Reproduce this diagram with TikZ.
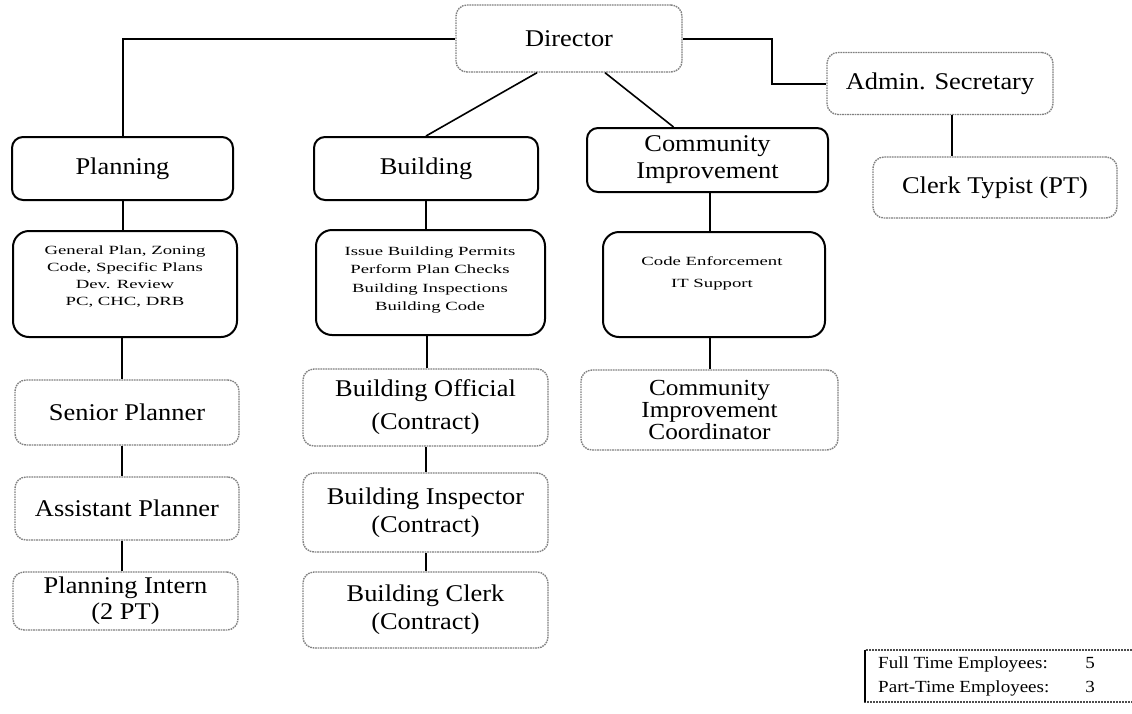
\documentclass[tikz,border=0pt]{standalone}
\usepackage{fontspec}
\setmainfont{Liberation Serif}
\newfontfamily\boxfont[FakeStretch=1.1]{Liberation Serif}
\newfontfamily\notefont[FakeStretch=1.5]{Liberation Serif}
\newfontfamily\tallyfont[FakeStretch=1.12]{Liberation Serif}

\begin{document}
\begin{tikzpicture}[x=1pt,y=-1pt,
  base/.style={rounded corners=11pt, inner sep=0pt, align=center},
  staff/.style={base, draw=black!50, line width=1.4pt, dash pattern=on 1.6pt off 0.9pt,
                font={\boxfont\fontsize{24}{27}\selectfont}},
  unit/.style={base, draw=black, line width=2pt, font={\boxfont\fontsize{24}{27}\selectfont}},
  duties/.style={base, rounded corners=16pt, draw=black, line width=2pt},
  dutytext/.style={inner sep=0pt, align=center, font={\notefont\fontsize{12.5}{17}\selectfont}},
  link/.style={draw=black, line width=2pt},
  slant/.style={draw=black, line width=1.6pt},
]
\useasboundingbox (0,0) rectangle (1132,713);

% top level
\node[staff, minimum width=226pt, minimum height=67pt] (dir) at (569,38.5) {Director};
\node[staff, minimum width=226pt, minimum height=62pt] (admin) at (940,83.5) {Admin. Secretary};
\node[staff, minimum width=244pt, minimum height=61pt] (clerk) at (995,187.5) {Clerk Typist (PT)};

% divisions
\node[unit, minimum width=221pt, minimum height=63pt] (plan) at (122.5,168.5) {Planning};
\node[unit, minimum width=224pt, minimum height=63pt] (bld) at (426,168.5) {Building};
\node[unit, minimum width=241pt, minimum height=64pt] (ci) at (707.5,160) {Community\\Improvement};

% duties of each division
\node[duties, minimum width=224pt, minimum height=106pt] (pdesc) at (125,284) {};
\node[dutytext] (pdesc-txt) at (125,277) {General Plan, Zoning\\Code, Specific Plans\\Dev. Review\\PC, CHC, DRB};
\node[duties, minimum width=229pt, minimum height=105pt] (bdesc) at (430.5,282.5) {};
\node[dutytext, font={\notefont\fontsize{12.5}{18.5}\selectfont}] (bdesc-txt) at (430,280)
  {Issue Building Permits\\Perform Plan Checks\\Building Inspections\\Building Code};
\node[duties, minimum width=222pt, minimum height=105pt] (cdesc) at (714,284.5) {};
\node[dutytext, font={\notefont\fontsize{12.5}{22}\selectfont}] (cdesc-txt) at (712,273)
  {Code Enforcement\\IT Support};

% planning staff
\node[staff, minimum width=224pt, minimum height=65pt] (senior) at (127,412.5) {Senior Planner};
\node[staff, minimum width=224pt, minimum height=63pt] (assist) at (127,508.5) {Assistant Planner};
\node[staff, minimum width=225pt, minimum height=58pt, font={\boxfont\fontsize{24}{26}\selectfont}]
  (intern) at (125.5,601) {Planning Intern\\(2 PT)};

% building staff
\node[staff, minimum width=245pt, minimum height=77pt, font={\boxfont\fontsize{24}{33}\selectfont}]
  (official) at (425.5,407.5) {Building Official\\(Contract)};
\node[staff, minimum width=245pt, minimum height=79pt, font={\boxfont\fontsize{24}{28}\selectfont}]
  (inspector) at (425.5,512.5) {Building Inspector\\(Contract)};
\node[staff, minimum width=245pt, minimum height=76pt, font={\boxfont\fontsize{24}{28}\selectfont}]
  (bclerk) at (425.5,610) {Building Clerk\\(Contract)};

% community improvement staff
\node[staff, minimum width=257pt, minimum height=80pt, font={\boxfont\fontsize{23}{22}\selectfont}]
  (coord) at (709.5,410) {Community\\Improvement\\Coordinator};

% connectors
\draw[link] (dir.west) -| (plan.north);
\draw[link] (dir.east) -| ([xshift=-54pt]admin.west) |- (admin.west);
\draw[slant] ([xshift=-32pt]dir.south) -- (bld.north);
\draw[slant] ([xshift=36pt]dir.south) -- ([xshift=-34pt]ci.north);
\draw[link] ([xshift=12pt]admin.south) -- ([xshift=12pt]admin.south |- clerk.north);

\draw[link] (plan.south) -- (plan.south |- pdesc.north);
\draw[link] ([xshift=-3pt]pdesc.south) -- ([xshift=-3pt]pdesc.south |- senior.north);
\draw[link] ([xshift=-5pt]senior.south) -- ([xshift=-5pt]senior.south |- assist.north);
\draw[link] ([xshift=-5pt]assist.south) -- ([xshift=-5pt]assist.south |- intern.north);

\draw[link] (bld.south) -- (bld.south |- bdesc.north);
\draw[link] ([xshift=-4pt]bdesc.south) -- ([xshift=-4pt]bdesc.south |- official.north);
\draw[link] (official.south) -- (official.south |- inspector.north);
\draw[link] (inspector.south) -- (inspector.south |- bclerk.north);

\draw[link] ([xshift=2pt]ci.south) -- ([xshift=2pt]ci.south |- cdesc.north);
\draw[link] ([xshift=-4pt]cdesc.south) -- ([xshift=-4pt]cdesc.south |- coord.north);

% staff count
\draw[black!70, line width=1.2pt, dash pattern=on 2pt off 1pt] (865,650) rectangle (1140,702);
\draw[black, line width=1.4pt] (865,650) -- (865,702);
\node[anchor=base west, inner sep=0pt, font={\tallyfont\fontsize{17}{24}\selectfont}] (tally) at (878,668)
  {\begin{tabular}[t]{@{}l@{\hspace{36pt}}l@{}}Full Time Employees: & 5\\ Part-Time Employees: & 3\end{tabular}};
\end{tikzpicture}
\end{document}
